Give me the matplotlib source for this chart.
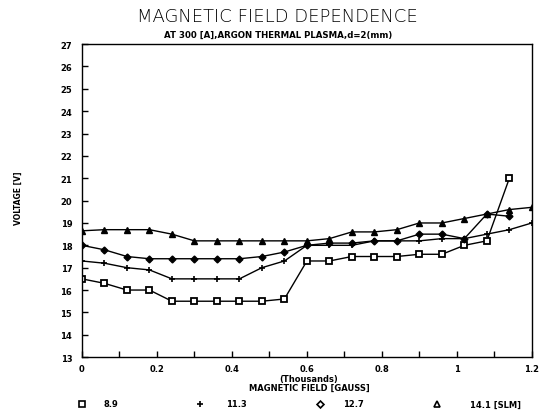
import matplotlib
matplotlib.use("Agg")
import matplotlib.pyplot as plt
from matplotlib.lines import Line2D
from matplotlib.ticker import MultipleLocator, FixedLocator, FuncFormatter

# x positions (thousands of gauss)
field = [0.0, 0.06, 0.12, 0.18, 0.24, 0.30, 0.36, 0.42, 0.48, 0.54, 0.60,
         0.66, 0.72, 0.78, 0.84, 0.90, 0.96, 1.02, 1.08, 1.14, 1.20]

v_8_9 = [16.5, 16.3, 16.0, 16.0, 15.5, 15.5, 15.5, 15.5, 15.5, 15.6, 17.3,
         17.3, 17.5, 17.5, 17.5, 17.6, 17.6, 18.0, 18.2, 21.0]
v_11_3 = [17.3, 17.2, 17.0, 16.9, 16.5, 16.5, 16.5, 16.5, 17.0, 17.3, 18.0,
          18.0, 18.0, 18.2, 18.2, 18.2, 18.3, 18.3, 18.5, 18.7, 19.0]
v_12_7 = [18.0, 17.8, 17.5, 17.4, 17.4, 17.4, 17.4, 17.4, 17.5, 17.7, 18.0,
          18.1, 18.1, 18.2, 18.2, 18.5, 18.5, 18.3, 19.4, 19.3]
v_14_1 = [18.65, 18.7, 18.7, 18.7, 18.5, 18.2, 18.2, 18.2, 18.2, 18.2, 18.2,
          18.3, 18.6, 18.6, 18.7, 19.0, 19.0, 19.2, 19.4, 19.6, 19.7]

series_labels = ["8.9", "11.3", "12.7", "14.1 [SLM]"]
y_ticks = list(range(13, 28))
x_major = [0.0, 0.2, 0.4, 0.6, 0.8, 1.0, 1.2]

fig = plt.figure(figsize=(5.5, 4.14), dpi=100)
ax = fig.add_axes([0.149, 0.135, 0.818, 0.756])

bold = dict(family="DejaVu Sans", weight="bold")

ax.plot(field[:len(v_8_9)], v_8_9, color="black", lw=1.0, marker="s",
        ms=4.5, mfc="white", mec="black", mew=1.3)
ax.plot(field[:len(v_11_3)], v_11_3, color="black", lw=1.0, marker="+",
        ms=5, mew=1.2)
ax.plot(field[:len(v_12_7)], v_12_7, color="black", lw=1.0, marker="D",
        ms=3.5, mfc="black", mec="black")
ax.plot(field[:len(v_14_1)], v_14_1, color="black", lw=1.0, marker="^",
        ms=4.5, mfc="black", mec="black")

ax.set_xlim(0, 1.2)
ax.set_ylim(13, 27)
ax.yaxis.set_major_locator(FixedLocator(y_ticks))
ax.xaxis.set_major_locator(FixedLocator(x_major))
ax.xaxis.set_minor_locator(MultipleLocator(0.1))
ax.xaxis.set_major_formatter(FuncFormatter(lambda v, p: ("%g" % round(v, 2))))
ax.tick_params(axis="both", which="both", direction="in", length=4, width=1,
               labelsize=6)
ax.tick_params(axis="x", pad=5)
ax.tick_params(axis="y", pad=7)
for lab in ax.get_xticklabels() + ax.get_yticklabels():
    lab.set_fontweight("bold")
for s in ax.spines.values():
    s.set_linewidth(1.0)

fig.text(0.505, 0.958, "MAGNETIC FIELD DEPENDENCE", ha="center", va="center",
         fontsize=13, family="DejaVu Sans", weight="light")
fig.text(0.505, 0.915, "AT 300 [A],ARGON THERMAL PLASMA,d=2(mm)", ha="center",
         va="center", fontsize=6.2, **bold)
fig.text(0.033, 0.52, "VOLTAGE [V]", rotation=90, ha="center", va="center",
         fontsize=5.5, **bold)
fig.text(0.562, 0.083, "(Thousands)", ha="center", va="center", fontsize=6, **bold)
fig.text(0.562, 0.062, "MAGNETIC FIELD [GAUSS]", ha="center", va="center",
         fontsize=6, **bold)

# legend row (marker then label), placed as in the reference
leg_y = 1 - 405 / 414
leg_items = [("s", 82, 103), ("+", 200, 226), ("D", 320, 343), ("^", 437, 470)]
for (mk, mx, tx), lab in zip(leg_items, series_labels):
    fig.add_artist(Line2D([mx / 550], [leg_y], transform=fig.transFigure,
                          marker=mk, linestyle="none", color="black",
                          mfc="white", mec="black", mew=1.2,
                          ms=4 if mk != "D" else 3.5))
    fig.text(tx / 550, leg_y, lab, ha="left", va="center", fontsize=6, **bold)

fig.savefig("out.png", dpi=100)
